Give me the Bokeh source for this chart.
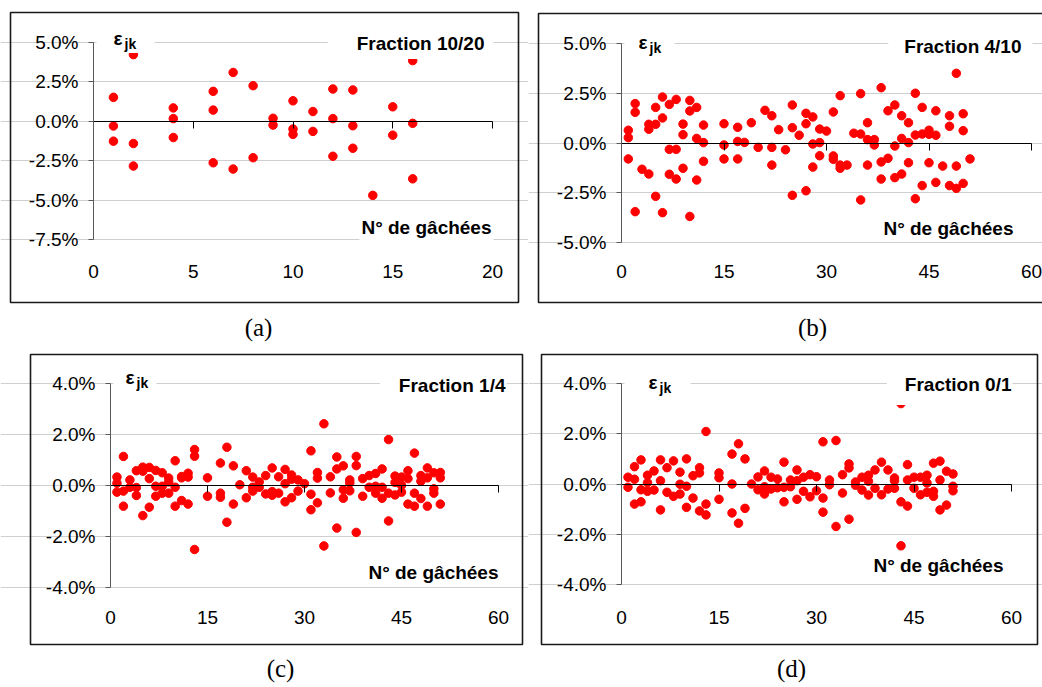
from bokeh.plotting import figure
from bokeh.layouts import column, row
from bokeh.models import (Range1d, FixedTicker, PrintfTickFormatter, LinearAxis,
                          Label, BoxAnnotation)
from bokeh.embed import file_html
from bokeh.resources import INLINE

# ---------------- data (epsilon_jk in %, per batch number) ----------------
a_batch = [1, 2, 4, 6, 7, 8, 9, 10, 11, 12, 13, 14, 15, 16]
a_eps = [[1.52, -0.30, -1.26], [4.23, -1.41, -2.84], [0.85, 0.17, -1.03],
         [1.90, 0.71, -2.63], [3.10, -3.03], [2.26, -2.31], [0.19, -0.24],
         [1.30, -0.49, -0.83], [0.62, -0.64], [2.05, 0.17, -2.22],
         [1.99, -0.28, -1.71], [-4.70], [0.92, -0.88], [3.85, -0.13, -3.65]]

b_batch = [1, 2, 3, 4, 5, 6, 7, 8, 9, 10, 11, 12, 15, 17, 18, 19, 20, 21, 22,
           23, 24, 25, 26, 27, 28, 29, 30, 31, 32, 33, 34, 35, 36, 37, 38, 39,
           40, 41, 42, 43, 44, 45, 46, 47, 48, 49, 50, 51]
b_eps = [[0.64, 0.27, -0.80], [1.98, 1.54, -3.45], [-1.32], [0.94, 0.69, -1.56],
         [1.79, 0.94, -2.68], [2.31, 1.26, -3.50], [1.94, -0.32, -1.57],
         [2.19, -0.32, -1.81], [0.95, 0.42, -1.27], [2.14, 1.61, -3.69],
         [1.79, 0.23, -1.86], [0.90, 0.02, -0.92], [0.97, -0.10, -0.80],
         [0.79, 0.08, -0.80], [0.03], [1.02], [-0.22], [1.64],
         [1.37, -0.22, -1.11], [0.67], [-0.34], [1.91, 0.77, -2.63], [0.39],
         [1.49, 0.97, -2.40], [1.31, -0.05, -1.21], [0.70, 0.02, -0.64], [0.60],
         [1.56, -0.65, -0.82], [2.38, -1.11, -1.27], [-1.11], [0.49],
         [2.48, 0.45, -2.86], [1.02, 0.17, -1.11], [0.17, -0.10],
         [2.78, -0.95, -1.81], [1.62, -0.77], [1.91, -0.15, -1.74],
         [1.37, 0.23, -1.56], [1.02, 0.02, -0.99], [2.50, 0.40, -2.80],
         [1.79, 0.45, -2.14], [0.64, 0.44, -0.99], [1.62, 0.39, -1.98], [-1.16],
         [1.37, 0.84, -2.14], [3.50, -1.16, -2.28], [1.47, 0.62, -2.03], [-0.80]]

c_batch = [1, 2, 3, 4, 5, 6, 7, 8, 9, 10, 11, 12, 13, 15, 17, 18, 19, 20, 21,
           22, 23, 24, 25, 26, 27, 28, 29, 30, 31, 32, 33, 34, 35, 36, 37, 38,
           39, 40, 41, 42, 43, 44, 45, 46, 47, 48, 49, 50, 51]
c_eps = [[0.33, 0.09, -0.26], [1.14, -0.22, -0.81], [0.22, -0.07],
         [0.58, -0.08, -0.39], [0.72, 0.56, -1.18], [0.71, 0.27, -0.85],
         [0.59, -0.03, -0.42], [0.50, -0.03, -0.30], [0.29, 0.14, -0.30],
         [0.97, -0.07, -0.81], [0.35, 0.30, -0.59], [0.48, 0.33, -0.73],
         [1.41, 1.15, -2.51], [0.30, -0.42], [0.88, -0.30, -0.46], [1.50, -1.44],
         [0.77, -0.73], [0.03], [0.58, -0.48], [0.33, -0.07, -0.22],
         [0.14, -0.07], [0.39, -0.33], [0.69, -0.24, -0.38], [0.34, -0.30],
         [0.63, 0.07, -0.64], [0.41, 0.25, -0.48], [0.22, -0.22], [0.07],
         [1.36, -0.34, -0.95], [0.51, 0.29, -0.68], [2.42, -2.37], [0.34, -0.29],
         [1.12, 0.65, -1.67], [0.77, -0.17, -0.50], [0.22, 0.10, -0.21],
         [1.14, 0.78, -1.84], [0.27, -0.42], [0.39, -0.07], [0.47, -0.03, -0.30],
         [0.65, -0.07, -0.50], [1.80, -0.30, -1.39], [0.37, 0.12, -0.37],
         [0.33, 0.01, -0.26], [0.58, 0.27, -0.73], [1.27, -0.30, -0.81],
         [0.39, 0.17, -0.51], [0.69, 0.30, -0.81], [0.50, -0.13, -0.30],
         [0.51, 0.30, -0.73]]

d_batch = [1, 2, 3, 4, 5, 6, 7, 8, 9, 10, 11, 12, 13, 15, 17, 18, 19, 20, 21,
           22, 23, 24, 25, 26, 27, 28, 29, 30, 31, 32, 33, 34, 35, 36, 37, 38,
           39, 40, 41, 42, 43, 44, 45, 46, 47, 48, 49, 50, 51]
d_eps = [[0.27, -0.13], [0.69, 0.19, -0.80], [0.96, -0.23, -0.71],
         [0.35, 0.05, -0.29], [0.52, -0.24], [0.96, 0.13, -1.03], [0.65, -0.33],
         [0.92, -0.49], [0.47, -0.01, -0.40], [1.00, -0.09, -0.93], [0.33, -0.56],
         [0.65, 0.44, -1.07], [2.09, -0.80, -1.23], [0.44, 0.25, -0.61],
         [1.19, 0.00, -1.15], [1.60, -1.56], [1.00, -0.97], [0.00], [0.28, -0.23],
         [0.52, -0.11, -0.40], [0.27, -0.20], [0.20, -0.15], [0.87, -0.13, -0.71],
         [0.16, -0.11], [0.56, 0.13, -0.61], [0.27, -0.29], [0.37, -0.51],
         [0.29, -0.27], [1.68, -0.56, -1.12], [0.16, -0.03], [1.73, -1.69],
         [0.37, -0.36], [0.80, 0.64, -1.40], [0.08, -0.05], [0.27, -0.24],
         [0.35, 0.11, -0.44], [0.56, -0.17], [0.87, -0.43], [0.56, -0.20],
         [0.24, 0.13, -0.17], [3.20, -0.71, -2.46], [0.77, 0.16, -0.88],
         [0.27, -0.17], [0.27, -0.43], [0.35, 0.04, -0.33], [0.83, -0.29, -0.49],
         [0.91, 0.16, -1.03], [0.51, -0.84], [0.40, -0.09, -0.27]]

a_xticks = [0, 5, 10, 15, 20]
a_yticks = [-7.5, -5.0, -2.5, 0.0, 2.5, 5.0]
b_xticks = [0, 15, 30, 45, 60]
b_yticks = [-5.0, -2.5, 0.0, 2.5, 5.0]
cd_xticks = [0, 15, 30, 45, 60]
cd_yticks = [-4.0, -2.0, 0.0, 2.0, 4.0]

fractions = ["Fraction 10/20", "Fraction 4/10", "Fraction 1/4", "Fraction 0/1"]
captions = ["(a)", "(b)", "(c)", "(d)"]
x_title = "N° de gâchées"

SANS = "Liberation Sans"
SERIF = "Liberation Serif"


def flatten(batches, eps):
    xs, ys = [], []
    for b, vals in zip(batches, eps):
        for v in vals:
            xs.append(b)
            ys.append(v)
    return xs, ys


def panel(batches, eps, xticks, yticks, fraction, caption, geo):
    xs, ys = flatten(batches, eps)
    W, H = geo["w"], geo["h"]
    fl, fr, ft, fb = geo["frame"]          # plot-area box in canvas pixels
    x0, x1 = xticks[0], xticks[-1]
    y0, y1 = yticks[0], yticks[-1]
    sx = (fr - fl) / (x1 - x0)
    sy = (fb - ft) / (y1 - y0)

    def dx(px):   # canvas pixel -> data x
        return x0 + (px - fl) / sx

    def dy(py):   # canvas pixel -> data y
        return y1 - (py - ft) / sy

    p = figure(width=W, height=H, output_backend="svg", toolbar_location=None,
               x_range=Range1d(dx(0), dx(W)), y_range=Range1d(dy(H), dy(0)),
               min_border=0, x_axis_location=None, y_axis_location=None)
    p.outline_line_color = None
    p.background_fill_color = "white"
    p.border_fill_color = "white"

    # y axis
    yax = LinearAxis(ticker=FixedTicker(ticks=yticks), fixed_location=x0,
                     bounds=(y0, y1),
                     formatter=PrintfTickFormatter(format="%.1f%%"))
    yax.axis_line_color = "#595959"
    yax.major_tick_line_color = "#595959"
    yax.major_tick_out = 5
    yax.major_tick_in = 0
    yax.minor_tick_line_color = None
    yax.major_label_standoff = 10
    yax.major_label_text_font = SANS
    yax.major_label_text_font_size = "19px"
    yax.major_label_text_color = "black"
    p.add_layout(yax, "left")

    # x tick labels at the bottom (Excel "low" labels)
    xax = LinearAxis(ticker=FixedTicker(ticks=xticks), fixed_location=y0,
                     bounds=(x0, x1))
    xax.axis_line_color = None
    xax.major_tick_line_color = None
    xax.minor_tick_line_color = None
    xax.major_label_standoff = geo["xs"]
    xax.major_label_text_font = SANS
    xax.major_label_text_font_size = "19px"
    xax.major_label_text_color = "black"
    p.add_layout(xax, "below")

    # zero line with tick marks
    zax = LinearAxis(ticker=FixedTicker(ticks=xticks), fixed_location=0,
                     bounds=(x0, x1))
    zax.axis_line_color = "black"
    zax.major_tick_line_color = "black"
    zax.major_tick_in = 0
    zax.major_tick_out = 7
    zax.minor_tick_line_color = None
    zax.major_label_overrides = {t: "" for t in xticks}
    p.add_layout(zax, "below")

    p.xgrid.visible = False
    p.ygrid.ticker = FixedTicker(ticks=yticks)
    p.ygrid.bounds = (x0, x1)
    p.ygrid.grid_line_color = "#CFCFCF"

    p.scatter(xs, ys, size=8.5, color="#FF0000", line_color="#FF0000")

    # epsilon_jk label (white box hides the top grid line near the axis)
    padl = max(geo["ex"] - 3, 0)
    p.add_layout(Label(x=x0, y=y1, x_offset=geo["ex"] - padl, y_offset=geo["ey"],
                       text="ε", text_font=SANS, text_font_style="bold",
                       text_font_size="19px", text_baseline="middle",
                       text_align="left", text_color="black",
                       background_fill_color="white",
                       padding=dict(left=padl, right=geo["er"], top=4, bottom=4)))
    p.add_layout(Label(x=x0, y=y1, x_offset=geo["ex"] + 11, y_offset=geo["ey"] - 5,
                       text="jk", text_font=SANS, text_font_style="bold",
                       text_font_size="14px", text_baseline="middle",
                       text_align="left", text_color="black"))
    # fraction label
    padr = max(1 - geo["fx"], 1)
    pb = geo["pb"]
    p.add_layout(Label(x=x1, y=y1, x_offset=geo["fx"] + padr,
                       y_offset=geo["fy"] - (pb - 5) / 2,
                       text=fraction, text_font=SANS, text_font_style="bold",
                       text_font_size="19px", text_baseline="middle",
                       text_align="right", text_color="black",
                       background_fill_color="white",
                       padding=dict(left=geo["fl"], right=padr, top=5, bottom=pb)))
    # x title
    p.add_layout(Label(x=x1, y=y0, x_offset=geo["nx"] + 2, y_offset=geo["ny"],
                       text=x_title, text_font=SANS, text_font_style="bold",
                       text_font_size="19px", text_baseline="middle",
                       text_align="right", text_color="black",
                       background_fill_color="white", padding=2))
    # panel box
    bl, br, bt, bb = geo["box"]
    p.add_layout(BoxAnnotation(left=dx(bl), right=dx(br), top=dy(bt), bottom=dy(bb),
                               fill_alpha=0, fill_color=None, line_alpha=1.0,
                               line_color="#1a1a1a", line_width=1.6))
    # caption
    cx, cy = geo["cap"]
    p.add_layout(Label(x=dx(cx), y=dy(cy), text=caption, text_font=SERIF,
                       text_font_size="25px", text_align="center",
                       text_baseline="middle", text_color="black"))
    return p


geo_a = dict(w=528, h=343, frame=(93, 492, 42, 239), xs=19, ex=20, ey=4, er=32,
             fx=-8, fy=-1, fl=29, pb=5, nx=-1, ny=12, box=(10, 518, 12, 302),
             cap=(258, 327))
geo_b = dict(w=514, h=343, frame=(93, 503, 43, 242), xs=16, ex=17, ey=1, er=27,
             fx=-10, fy=-3, fl=16, pb=5, nx=-18, ny=14, box=(10, 530, 13, 302),
             cap=(284, 327))
geo_c = dict(w=528, h=344, frame=(110, 498, 40, 244), xs=17, ex=15, ey=6, er=22,
             fx=7, fy=-2, fl=19, pb=5, nx=0, ny=15, box=(30, 522, 11, 301),
             cap=(280, 325))
geo_d = dict(w=514, h=344, frame=(93, 483, 40, 241), xs=20, ex=27, ey=1, er=33,
             fx=0, fy=-1, fl=18, pb=10, nx=-8, ny=19, box=(13, 509, 11, 301),
             cap=(263, 325))

pa = panel(a_batch, a_eps, a_xticks, a_yticks, fractions[0], captions[0], geo_a)
pb_ = panel(b_batch, b_eps, b_xticks, b_yticks, fractions[1], captions[1], geo_b)
pc = panel(c_batch, c_eps, cd_xticks, cd_yticks, fractions[2], captions[2], geo_c)
pd = panel(d_batch, d_eps, cd_xticks, cd_yticks, fractions[3], captions[3], geo_d)

layout = column(row(pa, pb_), row(pc, pd))
open("out.html", "w").write(file_html(layout, INLINE))
